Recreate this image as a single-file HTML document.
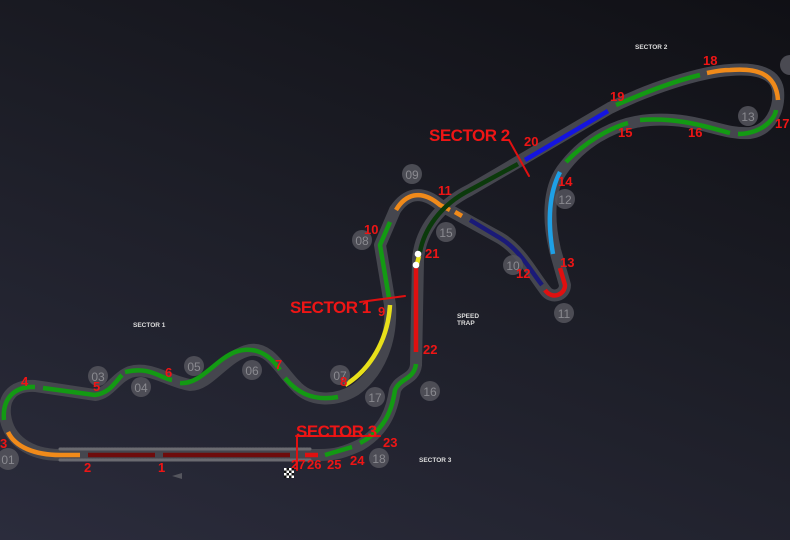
<!DOCTYPE html>
<html><head><meta charset="utf-8"><style>
html,body{margin:0;padding:0;}
body{width:790px;height:540px;overflow:hidden;background:linear-gradient(200deg,#101015 0%,#1c1d26 45%,#2b2c3c 100%);}
svg{display:block;}
.n{font-family:"Liberation Sans",sans-serif;font-weight:bold;fill:#ee1515;font-size:13px;}
.c{fill:#55555d;opacity:.85}
.ct{font-family:"Liberation Sans",sans-serif;fill:#8a8a90;font-size:12px;text-anchor:middle;}
.s{font-family:"Liberation Sans",sans-serif;font-weight:bold;fill:#ddd;font-size:6.5px;}
.big{font-family:"Liberation Sans",sans-serif;font-weight:bold;fill:#ee1515;font-size:17px;letter-spacing:-0.5px}
</style></head><body>
<svg width="790" height="540" viewBox="0 0 790 540" xmlns="http://www.w3.org/2000/svg">
<g fill="none" stroke-linecap="round" stroke-linejoin="round">
<!-- track outline -->
<path id="t" d="M320,455 L60,455 C30,455 8,440 5,415 C3,395 15,385 35,386 L95,395 C110,393 115,378 130,372 C150,366 170,382 190,385 C210,385 225,355 250,350 C270,347 280,370 295,385 C310,402 335,402 355,390 C380,372 392,340 390,305 L380,245 L395,210 C405,195 420,188 440,205 L500,238 C520,250 530,270 545,290 C552,300 565,295 565,285 L555,250 C548,220 548,190 562,170 C580,145 610,123 650,120 C700,117 720,135 750,133 C770,130 780,110 778,90 C775,72 755,68 730,70 C700,72 650,88 610,108 L470,190 C440,205 420,230 418,260 L416,365 C414,380 400,378 395,390 C392,410 385,430 360,445 C345,452 335,455 320,455 Z" stroke="#45464e" stroke-width="12"/>
<!-- straight dashed -->
<line x1="60" y1="449" x2="310" y2="449" stroke="#6a6a70" stroke-width="3" stroke-dasharray="2 1"/>
<line x1="60" y1="460" x2="310" y2="460" stroke="#6a6a70" stroke-width="3" stroke-dasharray="2 1"/>
<g stroke-width="4.5" stroke-linecap="butt">
<path d="M88,455 L155,455 M163,455 L290,455" stroke="#6e0c0c"/>
<path d="M305,455 L318,455" stroke="#e01010"/>
<path d="M80,455 L60,455 C35,455 15,447 8,432" stroke="#f08a1a"/>
<path d="M4,420 C2,398 15,386 35,387 M43,388 L95,395 C110,393 115,382 122,375" stroke="#139a13"/>
<path d="M125,372 C150,366 160,378 172,380 M180,383 C200,385 215,360 235,352 C255,345 270,355 280,370 M285,378 C295,390 310,402 338,397" stroke="#139a13"/>
<path d="M345,385 C370,370 388,340 390,305" stroke="#e8e01a"/>
<path d="M389,298 L380,245 L390,222" stroke="#139a13"/>
<path d="M396,210 C405,195 420,188 440,205 L450,210" stroke="#f08a1a"/>
<path d="M455,212 L462,216" stroke="#f08a1a"/>
<path d="M470,220 L500,238 C520,250 530,270 542,285" stroke="#1a1a78"/>
<path d="M545,290 C552,300 565,295 565,285 L560,268" stroke="#e01010"/>
<path d="M553,254 C548,225 548,195 560,172" stroke="#1ea0e6"/>
<path d="M566,162 C585,142 610,128 628,123 M640,120 C680,117 710,128 730,133 M738,134 C760,134 775,120 776,110" stroke="#139a13"/>
<path d="M778,100 C776,72 755,68 730,70 C720,70 712,72 707,73" stroke="#f08a1a"/>
<path d="M700,75 C670,82 640,95 616,105" stroke="#139a13"/>
<path d="M608,111 L525,160" stroke="#1414e0"/>
<path d="M518,164 L470,190 C440,205 424,230 420,252" stroke="#0b3a0b"/>
<path d="M419,256 L417,264" stroke="#e8e01a"/>
<path d="M416,268 L416,352" stroke="#e01010"/>
<path d="M416,364 C414,380 400,378 395,390 C392,410 385,430 360,443 M352,447 L325,455" stroke="#139a13"/>
</g>
<circle cx="418" cy="254" r="3.3" fill="#fff"/>
<circle cx="416" cy="265" r="3.3" fill="#fff"/>
<!-- sector lines -->
<path d="M297,436 L297,470 M296,436 L380,436" stroke="#e01010" stroke-width="2" fill="none"/>
<path d="M509,140 L529,176" stroke="#e01010" stroke-width="2"/>
<path d="M360,302 L405,296" stroke="#e01010" stroke-width="2"/>
</g>
<!-- gray circles -->
<g>
<circle class="c" cx="8" cy="459" r="11"/><text class="ct" x="8" y="464">01</text>
<circle class="c" cx="98" cy="376" r="10"/><text class="ct" x="98" y="381">03</text>
<circle class="c" cx="141" cy="387" r="10"/><text class="ct" x="141" y="392">04</text>
<circle class="c" cx="194" cy="366" r="10"/><text class="ct" x="194" y="371">05</text>
<circle class="c" cx="252" cy="370" r="10"/><text class="ct" x="252" y="375">06</text>
<circle class="c" cx="340" cy="375" r="10"/><text class="ct" x="340" y="380">07</text>
<circle class="c" cx="375" cy="397" r="10"/><text class="ct" x="375" y="402">17</text>
<circle class="c" cx="430" cy="391" r="10"/><text class="ct" x="430" y="396">16</text>
<circle class="c" cx="379" cy="458" r="10"/><text class="ct" x="379" y="463">18</text>
<circle class="c" cx="362" cy="240" r="10"/><text class="ct" x="362" y="245">08</text>
<circle class="c" cx="412" cy="174" r="10"/><text class="ct" x="412" y="179">09</text>
<circle class="c" cx="446" cy="232" r="10"/><text class="ct" x="446" y="237">15</text>
<circle class="c" cx="513" cy="265" r="10"/><text class="ct" x="513" y="270">10</text>
<circle class="c" cx="564" cy="313" r="10"/><text class="ct" x="564" y="318">11</text>
<circle class="c" cx="565" cy="199" r="10"/><text class="ct" x="565" y="204">12</text>
<circle class="c" cx="748" cy="116" r="10"/><text class="ct" x="748" y="121">13</text>
<circle class="c" cx="790" cy="65" r="10"/>
</g>
<!-- red numbers -->
<g class="n">
<text x="84" y="472">2</text><text x="158" y="472">1</text>
<text x="0" y="448">3</text><text x="21" y="386">4</text><text x="93" y="391">5</text>
<text x="165" y="377">6</text><text x="275" y="369">7</text><text x="340" y="386">8</text>
<text x="378" y="316">9</text><text x="364" y="234">10</text><text x="438" y="195">11</text>
<text x="516" y="278">12</text><text x="560" y="267">13</text><text x="558" y="186">14</text>
<text x="618" y="137">15</text><text x="688" y="137">16</text><text x="775" y="128">17</text>
<text x="703" y="65">18</text><text x="610" y="101">19</text><text x="524" y="146">20</text>
<text x="425" y="258">21</text><text x="423" y="354">22</text><text x="383" y="447">23</text>
<text x="350" y="465">24</text><text x="327" y="469">25</text><text x="307" y="469">26</text><text x="291" y="469">27</text>
</g>
<text class="big" x="429" y="141">SECTOR 2</text>
<text class="big" x="290" y="313">SECTOR 1</text>
<text class="big" x="296" y="437">SECTOR 3</text>
<text class="s" x="635" y="49">SECTOR 2</text>
<text class="s" x="133" y="327">SECTOR 1</text>
<text class="s" x="419" y="462">SECTOR 3</text>
<text class="s" x="457" y="318">SPEED</text><text class="s" x="457" y="325">TRAP</text>
<!-- checkered flag -->
<g fill="#fff"><rect x="284" y="468" width="10" height="10" fill="#111"/>
<rect x="284" y="468" width="2.5" height="2.5"/><rect x="289" y="468" width="2.5" height="2.5"/>
<rect x="286.5" y="470.5" width="2.5" height="2.5"/><rect x="291.5" y="470.5" width="2.5" height="2.5"/>
<rect x="284" y="473" width="2.5" height="2.5"/><rect x="289" y="473" width="2.5" height="2.5"/>
<rect x="286.5" y="475.5" width="2.5" height="2.5"/><rect x="291.5" y="475.5" width="2.5" height="2.5"/></g>
<path d="M172,476 L182,473 L182,479 Z" fill="#55565e"/>
</svg>
</body></html>
